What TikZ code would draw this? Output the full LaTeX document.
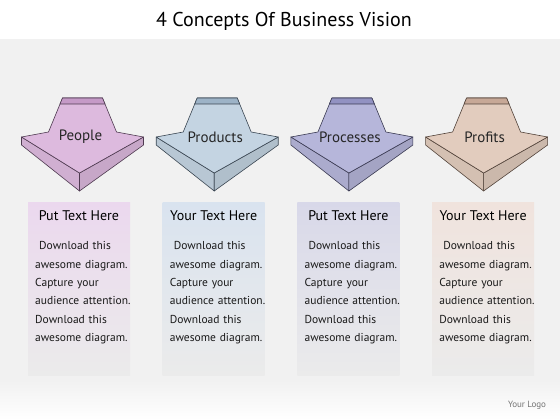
\documentclass[tikz,border=0pt]{standalone}
\usepackage{fontspec}
\setmainfont{PT Sans}
\definecolor{bggray}{HTML}{F1F1F1}
\definecolor{faceA}{HTML}{DDBADE}\definecolor{bandA}{HTML}{C59AC7}\definecolor{lineA}{HTML}{4E3A50}\definecolor{tintA}{HTML}{EBD8EE}
\definecolor{faceB}{HTML}{C4D4E2}\definecolor{bandB}{HTML}{9DB3C7}\definecolor{lineB}{HTML}{3A4652}\definecolor{tintB}{HTML}{D9E3EF}
\definecolor{faceC}{HTML}{B6B6DA}\definecolor{bandC}{HTML}{9292C2}\definecolor{lineC}{HTML}{3A3A52}\definecolor{tintC}{HTML}{D8D8E9}
\definecolor{faceD}{HTML}{E2CCBE}\definecolor{bandD}{HTML}{C7A897}\definecolor{lineD}{HTML}{52433A}\definecolor{tintD}{HTML}{F0E3DD}
\definecolor{panelbot}{HTML}{EBEBEB}
\tikzset{
  arrowlbl/.style={font=\fontsize{15}{15}\selectfont, text=black!85, inner sep=0pt},
  ptitle/.style={font=\fontsize{14}{16}\selectfont, text=black, inner sep=0pt},
  pbody/.style={font=\fontsize{11.5}{18.3}\selectfont, text=black!90, align=left, anchor=north west, inner sep=0pt, text width=98pt},
  edgeline/.style={line width=0.6pt, line join=round},
}
\begin{document}
\begin{tikzpicture}[x=1pt,y=-1pt]
\useasboundingbox (0,0) rectangle (560,420);
\fill[white] (0,0) rectangle (560,420);
\fill[bggray] (0,39) rectangle (560,380);
\shade[top color=bggray, bottom color=white] (0,380) rectangle (560,420);
\node[font=\fontsize{20}{22}\selectfont, text=black] (title) at (284,21) {4 Concepts Of Business Vision};
\foreach \i/\cx/\nm/\ttl in {A/82.5/People/Put Text Here, B/217.2/Products/Your Text Here, C/351.9/Processes/Put Text Here, D/486.6/Profits/Your Text Here}{
  % side faces
  \fill[face\i!94!black, draw=line\i, edgeline] (\cx-61,137) -- (\cx-3,173) -- (\cx-3,191) -- (\cx-61,145) -- cycle;
  \fill[face\i!90!black, draw=line\i, edgeline] (\cx-3,173) -- (\cx+61,137) -- (\cx+61,145) -- (\cx-3,191) -- cycle;
  % front face
  \fill[face\i, draw=line\i, edgeline] (\cx-20,98) -- (\cx+20,98) -- (\cx+34,132) -- (\cx+61,137) -- (\cx-3,173) -- (\cx-61,137) -- (\cx-34,132) -- cycle;
  \fill[band\i, draw=line\i, edgeline] (\cx-20,98) -- (\cx+20,98) -- (\cx+22.5,104) -- (\cx-22.5,104) -- cycle;
  \node[arrowlbl] (lbl\i) at (\cx-2,137) {\nm};
  % panel
  \shade[top color=tint\i, bottom color=panelbot] (\cx-54.5,202) rectangle (\cx+47.5,375);
  \node[ptitle] (pt\i) at (\cx-3.5,216) {\ttl};
  \node[pbody] (pb\i) at (\cx-47.5,241.5) {\hspace*{4pt}Download this\\awesome diagram.\\Capture your\\audience attention.\\Download this\\awesome diagram.};
}
\node[font=\fontsize{9}{10}\selectfont, text=black!55] (logo) at (527,405) {Your Logo};
\end{tikzpicture}
\end{document}
